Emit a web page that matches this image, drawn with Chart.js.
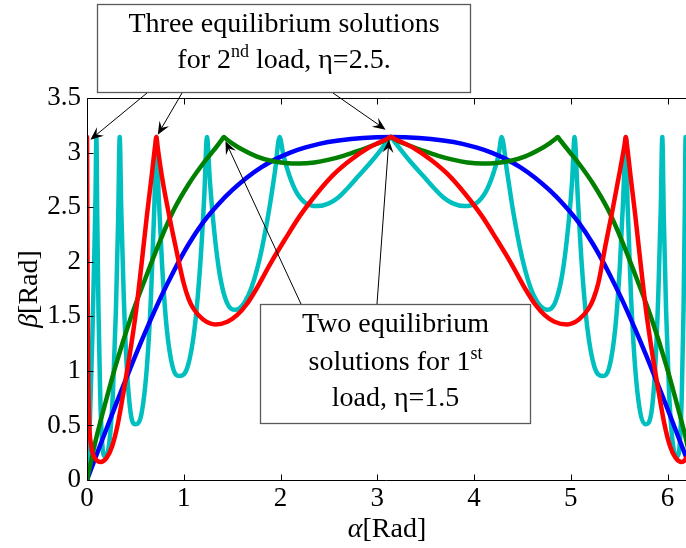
<!DOCTYPE html>
<html lang="en">
<head>
<meta charset="UTF-8">
<title>Equilibrium solutions beta(alpha)</title>
<script src="https://cdn.jsdelivr.net/npm/chart.js"></script>
<style>
  body { margin: 0; background: #fff; }
  canvas { display: block; }
</style>
</head>
<body>
<canvas id="betaChart" width="686" height="548"></canvas>
<script>
// axis ticks
const alphaTicks = [0, 1, 2, 3, 4, 5, 6];
const betaTicks = [0, 0.5, 1, 1.5, 2, 2.5, 3, 3.5];

// blue solution branch
const alphaBlue = [0, 0.15, 0.3, 0.45, 0.6, 0.75, 0.9, 1.05, 1.2, 1.35, 1.5, 1.65, 1.8, 1.95, 2.1, 2.25, 2.4, 2.6, 2.85, 3.14,
  3.43, 3.68, 3.88, 4.03, 4.18, 4.33, 4.48, 4.63, 4.78, 4.93, 5.08, 5.23, 5.38, 5.53, 5.68, 5.83, 5.98, 6.13, 6.283];
const betaBlue = [0, 0.35, 0.695, 1.03, 1.35, 1.65, 1.92, 2.16, 2.36, 2.52, 2.655, 2.77, 2.865, 2.94, 3.0, 3.045, 3.08, 3.11, 3.133, 3.1416,
  3.133, 3.11, 3.08, 3.045, 3.0, 2.94, 2.865, 2.77, 2.655, 2.52, 2.36, 2.16, 1.92, 1.65, 1.35, 1.03, 0.695, 0.35, 0];

// green solution branch
const alphaGreen = [0, 0.1, 0.2, 0.3, 0.45, 0.6, 0.75, 0.9, 1.05, 1.2, 1.3, 1.39, 1.414,
  1.44, 1.5, 1.6, 1.75, 1.9, 2.05, 2.2, 2.35, 2.5, 2.65, 2.8, 2.95, 3.05, 3.11, 3.14,
  3.17, 3.23, 3.33, 3.48, 3.63, 3.78, 3.93, 4.08, 4.23, 4.38, 4.53, 4.68, 4.78, 4.84, 4.865,
  4.89, 4.983, 5.083, 5.233, 5.383, 5.533, 5.683, 5.833, 5.983, 6.083, 6.183, 6.283];
const betaGreen = [0, 0.4, 0.74, 1.06, 1.48, 1.84, 2.18, 2.48, 2.71, 2.9, 3.01, 3.114, 3.1416,
  3.124, 3.085, 3.03, 2.965, 2.925, 2.905, 2.9, 2.91, 2.935, 2.97, 3.015, 3.065, 3.1, 3.127, 3.1416,
  3.127, 3.1, 3.065, 3.015, 2.97, 2.935, 2.91, 2.9, 2.905, 2.925, 2.965, 3.03, 3.085, 3.124, 3.1416,
  3.113, 3.01, 2.9, 2.71, 2.48, 2.18, 1.84, 1.48, 1.06, 0.74, 0.4, 0];

// red solution branch
const alphaRed = [0, 0.004, 0.01, 0.02, 0.04, 0.07, 0.1, 0.14,
  0.2, 0.26, 0.32, 0.38, 0.44, 0.5, 0.56, 0.62, 0.67, 0.705, 0.717,
  0.73, 0.78, 0.85, 0.92, 1.0, 1.05, 1.1, 1.2, 1.33,
  1.45, 1.55, 1.65, 1.75, 1.9, 2.05, 2.2, 2.38, 2.55, 2.72, 2.9, 3.1, 3.14,
  3.18, 3.38, 3.56, 3.73, 3.9, 4.08, 4.23, 4.38, 4.53, 4.63, 4.73, 4.83, 4.96,
  5.083, 5.183, 5.233, 5.283, 5.36, 5.43, 5.5, 5.553, 5.568,
  5.58, 5.615, 5.665, 5.725, 5.785, 5.845, 5.905, 5.965, 6.025, 6.085, 6.145,
  6.19, 6.24, 6.263, 6.273, 6.279, 6.283];
const betaRed = [3.1416, 2.2, 1.2, 0.6, 0.33, 0.22, 0.18, 0.165,
  0.2, 0.31, 0.52, 0.82, 1.14, 1.5, 1.95, 2.43, 2.8, 3.07, 3.1416,
  3.05, 2.75, 2.42, 2.12, 1.8, 1.66, 1.57, 1.47, 1.425,
  1.45, 1.51, 1.61, 1.75, 1.99, 2.21, 2.42, 2.63, 2.8, 2.93, 3.04, 3.125, 3.1416,
  3.125, 3.04, 2.93, 2.8, 2.63, 2.42, 2.21, 1.99, 1.75, 1.61, 1.51, 1.45, 1.425,
  1.47, 1.57, 1.66, 1.8, 2.16, 2.47, 2.8, 3.06, 3.1416,
  3.07, 2.8, 2.43, 1.95, 1.5, 1.14, 0.82, 0.52, 0.31, 0.2, 0.165,
  0.2, 0.33, 0.6, 1.2, 2.2, 3.1416];

// cyan solution branch
const alphaCyan = [0, 0.03, 0.055, 0.075, 0.088, 0.097,
  0.106, 0.1185, 0.136, 0.157, 0.183, 0.2295, 0.268, 0.299, 0.3225, 0.338,
  0.354, 0.3785, 0.411, 0.451, 0.5, 0.565, 0.619, 0.663, 0.695, 0.717,
  0.741, 0.7765, 0.824, 0.884, 0.955, 1.0405, 1.112, 1.169, 1.2115, 1.24,
  1.2695, 1.314, 1.373, 1.4465, 1.535, 1.6715, 1.785, 1.876, 1.9445, 1.99,
  2.029, 2.0875, 2.1655, 2.263, 2.38, 2.5, 2.6, 2.7, 2.8, 2.95, 3.1, 3.14,
  3.18, 3.33, 3.48, 3.58, 3.68, 3.78, 3.9, 4.02, 4.1175, 4.1955, 4.254, 4.285,
  4.3385, 4.407, 4.498, 4.6115, 4.76, 4.8365, 4.91, 4.969, 5.0135, 5.038,
  5.0715, 5.114, 5.171, 5.2425, 5.328, 5.399, 5.459, 5.5065, 5.542, 5.568,
  5.588, 5.62, 5.664, 5.718, 5.775, 5.832, 5.872, 5.9045, 5.929, 5.945,
  5.9605, 5.984, 6.015, 6.0535, 6.1, 6.126, 6.147, 6.1645, 6.177, 6.186,
  6.195, 6.208, 6.228, 6.253, 6.283];
const betaCyan = [0, 0.55, 1.3, 2.05, 2.6, 3.1416,
  2.41, 1.56, 0.8, 0.337, 0.22, 0.337, 0.8, 1.56, 2.41, 3.1416,
  2.48, 1.72, 1.036, 0.615, 0.51, 0.615, 1.036, 1.72, 2.48, 3.1416,
  2.595, 1.96, 1.39, 1.04, 0.953, 1.04, 1.39, 1.96, 2.595, 3.1416,
  2.745, 2.287, 1.876, 1.623, 1.56, 1.7, 2.03, 2.445, 2.84, 3.1416,
  2.98, 2.8, 2.636, 2.535, 2.51, 2.535, 2.59, 2.68, 2.78, 2.93, 3.097, 3.1416,
  3.097, 2.93, 2.78, 2.68, 2.59, 2.535, 2.51, 2.535, 2.636, 2.8, 2.98, 3.1416,
  2.84, 2.445, 2.03, 1.7, 1.56, 1.623, 1.876, 2.287, 2.745, 3.1416,
  2.595, 1.96, 1.39, 1.04, 0.953, 1.04, 1.39, 1.96, 2.595, 3.1416,
  2.48, 1.72, 1.036, 0.615, 0.51, 0.615, 1.036, 1.72, 2.48, 3.1416,
  2.41, 1.56, 0.8, 0.337, 0.22, 0.337, 0.8, 1.56, 2.41, 3.1416,
  2.6, 2.05, 1.3, 0.55, 0];

const toPoints = (xs, ys) => xs.map((x, i) => ({ x: x, y: ys[i] }));

const SERIF = '"Liberation Serif", "Times New Roman", serif';

function line(xs, ys, color) {
  return {
    data: toPoints(xs, ys),
    borderColor: color,
    borderWidth: 4.5,
    pointRadius: 0,
    cubicInterpolationMode: 'monotone',
    borderJoinStyle: 'round',
    borderCapStyle: 'round'
  };
}

// box, inward ticks on left/bottom/top
const axesFrame = {
  id: 'axesFrame',
  afterDatasetsDraw(chart) {
    const { ctx, chartArea: a, scales: { x, y } } = chart;
    const L = a.left + 0.5, T = a.top + 0.5, B = a.bottom + 0.5, R = a.right;
    ctx.save();
    ctx.strokeStyle = '#000';
    ctx.lineWidth = 1;
    ctx.beginPath();
    ctx.moveTo(R, T); ctx.lineTo(L, T); ctx.lineTo(L, B); ctx.lineTo(R, B);
    alphaTicks.forEach(v => {
      const px = Math.round(x.getPixelForValue(v)) + 0.5;
      ctx.moveTo(px, B); ctx.lineTo(px, B - 6);
      ctx.moveTo(px, T); ctx.lineTo(px, T + 6);
    });
    betaTicks.forEach(v => {
      const py = Math.round(y.getPixelForValue(v)) + 0.5;
      ctx.moveTo(L, py); ctx.lineTo(L + 6, py);
    });
    ctx.stroke();
    ctx.restore();
  }
};

function richText(ctx, parts, cx, baseline) {
  let w = 0;
  parts.forEach(p => { ctx.font = p.font; w += ctx.measureText(p.text).width; });
  let xpos = cx - w / 2;
  parts.forEach(p => {
    ctx.font = p.font;
    ctx.fillText(p.text, xpos, baseline - (p.rise || 0));
    xpos += ctx.measureText(p.text).width;
  });
}

function arrow(ctx, x0, y0, x1, y1) {
  const ang = Math.atan2(y1 - y0, x1 - x0);
  const c = Math.cos(ang), s = Math.sin(ang);
  const len = 13, half = 5.5, notch = 8;
  ctx.beginPath();
  ctx.moveTo(x0, y0);
  ctx.lineTo(x1 - notch * c, y1 - notch * s);
  ctx.stroke();
  ctx.beginPath();
  ctx.moveTo(x1, y1);
  ctx.lineTo(x1 - len * c - half * s, y1 - len * s + half * c);
  ctx.lineTo(x1 - notch * c, y1 - notch * s);
  ctx.lineTo(x1 - len * c + half * s, y1 - len * s - half * c);
  ctx.closePath();
  ctx.fill();
}

// text boxes and arrows pointing at the equilibrium points
const notes = {
  id: 'notes',
  afterDraw(chart) {
    const { ctx, scales: { x, y } } = chart;
    const big = '28px ' + SERIF, small = '18px ' + SERIF;
    ctx.save();

    ctx.fillStyle = '#fff';
    ctx.strokeStyle = '#5a5a5a';
    ctx.lineWidth = 1.3;
    ctx.fillRect(97.5, 4.5, 373, 88);
    ctx.strokeRect(97.5, 4.5, 373, 88);
    ctx.fillRect(260.5, 304.5, 270, 119);
    ctx.strokeRect(260.5, 304.5, 270, 119);

    ctx.fillStyle = '#000';
    ctx.textBaseline = 'alphabetic';
    ctx.textAlign = 'left';
    richText(ctx, [{ text: 'Three equilibrium solutions', font: big }], 284, 32);
    richText(ctx, [
      { text: 'for 2', font: big },
      { text: 'nd', font: small, rise: 11 },
      { text: ' load, \u03b7=2.5.', font: big }
    ], 284, 68);
    richText(ctx, [{ text: 'Two equilibrium', font: big }], 395.5, 332);
    richText(ctx, [
      { text: 'solutions for 1', font: big },
      { text: 'st', font: small, rise: 11 }
    ], 395.5, 370);
    richText(ctx, [{ text: 'load, \u03b7=1.5', font: big }], 395.5, 406);

    ctx.strokeStyle = '#000';
    ctx.lineWidth = 1;
    const P = (a, b) => [x.getPixelForValue(a), y.getPixelForValue(b)];
    const arrows = [
      [147, 93, P(0.035, 3.118)],
      [182, 93, P(0.731, 3.164)],
      [333, 93, P(3.086, 3.21)],
      [301, 304, P(1.431, 3.104)],
      [377, 304, P(3.12, 3.118)]
    ];
    arrows.forEach(([x0, y0, tip]) => arrow(ctx, x0, y0, tip[0], tip[1]));

    // axis titles: greek symbol italic, unit upright
    const it = 'italic 28px ' + SERIF;
    richText(ctx, [{ text: '\u03b1', font: it }, { text: '[Rad]', font: big }], 387, 537);
    ctx.translate(37, 289);
    ctx.rotate(-Math.PI / 2);
    richText(ctx, [{ text: '\u03b2', font: it }, { text: '[Rad]', font: big }], 0, 0);
    ctx.restore();
  }
};

new Chart(document.getElementById('betaChart'), {
  type: 'line',
  data: {
    datasets: [
      line(alphaRed, betaRed, '#ff0000'),
      line(alphaGreen, betaGreen, '#008000'),
      line(alphaBlue, betaBlue, '#0000ff'),
      line(alphaCyan, betaCyan, '#00bfbf')
    ]
  },
  options: {
    responsive: false,
    animation: false,
    layout: { padding: { left: 0, right: 0, top: 98, bottom: 0 } },
    plugins: { legend: { display: false }, tooltip: { enabled: false } },
    scales: {
      x: {
        type: 'linear',
        min: 0,
        max: 6.19,
        afterFit(s) { s.height = 68; },
        afterBuildTicks(s) { s.ticks = alphaTicks.map(v => ({ value: v })); },
        grid: { display: false, drawTicks: false },
        border: { display: false },
        ticks: {
          font: { family: SERIF, size: 27 },
          color: '#000',
          padding: 3,
          maxRotation: 0,
          autoSkip: false,
          callback: v => String(v)
        }
      },
      y: {
        type: 'linear',
        min: 0,
        max: 3.5,
        afterFit(s) { s.width = 87; },
        afterBuildTicks(s) { s.ticks = betaTicks.map(v => ({ value: v })); },
        grid: { display: false, drawTicks: false },
        border: { display: false },
        ticks: {
          font: { family: SERIF, size: 27 },
          color: '#000',
          padding: 6,
          autoSkip: false,
          callback: v => String(v)
        }
      }
    }
  },
  plugins: [axesFrame, notes]
});
</script>
</body>
</html>
